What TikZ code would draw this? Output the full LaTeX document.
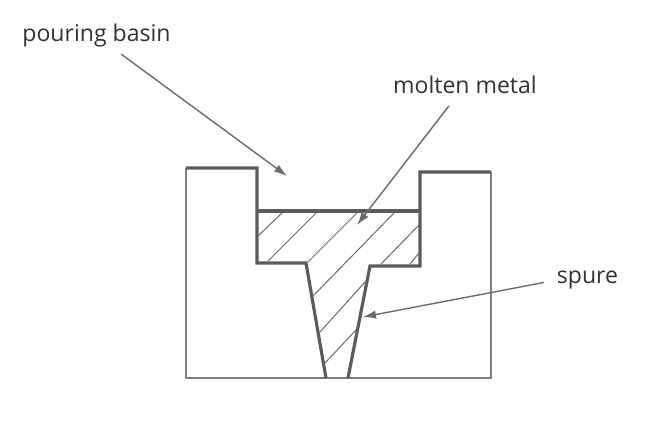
\documentclass[tikz,border=0pt]{standalone}
\usepackage{fontspec}
\setmainfont{Open Sans}
\usetikzlibrary{arrows.meta}
\definecolor{wall}{gray}{0.36}
\definecolor{leader}{gray}{0.42}
\tikzset{
  callout/.style={text=black!80,inner sep=0pt,font=\fontsize{32.8}{38}\selectfont},
  wallthick/.style={draw=wall,line width=0.16cm,line join=miter},
  wallthin/.style={draw=gray,line width=0.08cm},
  hatchline/.style={draw=leader,line width=0.05cm},
  leaderline/.style={draw=leader,line width=0.07cm,-{Latex[length=0.65cm,width=0.42cm]}}
}
\begin{document}
\begin{tikzpicture}[x=0.05cm,y=-0.05cm]
\useasboundingbox (0,0) rectangle (666,429);
\fill[white] (0,0) rectangle (666,429);
\draw [wallthin] (491,172) -- (491,378) -- (186,378) -- (186,168);
\foreach \xa/\ya/\xb/\yb in {258/236/283/212,268/261/317/212,308/262/358/212,313/296/395/212,381/264/419/225,410/264/419/253,320/332/365/282,325/363/357/329} \draw [hatchline] (\xa,\ya) -- (\xb,\yb);
\draw [wallthick] (186,168) -- (257,168) -- (257,263) -- (306,263) -- (326,378);
\draw [wallthick] (348,378) -- (370,266) -- (420,266) -- (420,172) -- (491,172);
\draw [wallthick] (257,211) -- (420,211);
\node[callout] (basin) at (96.5,36) {pouring basin};
\node[callout] (metal) at (465,85) {molten metal};
\node[callout] (spure) at (587.5,280) {spure};
\coordinate (basintip) at (287,176);
\coordinate (metaltip) at (357,225);
\coordinate (spuretip) at (363,317);
\draw [leaderline,shorten <=0.55cm] (basin) -- (basintip);
\draw [leaderline,shorten <=0.75cm] (metal) -- (metaltip);
\draw [leaderline,shorten <=0.65cm] (spure.west) -- (spuretip);
\end{tikzpicture}
\end{document}
